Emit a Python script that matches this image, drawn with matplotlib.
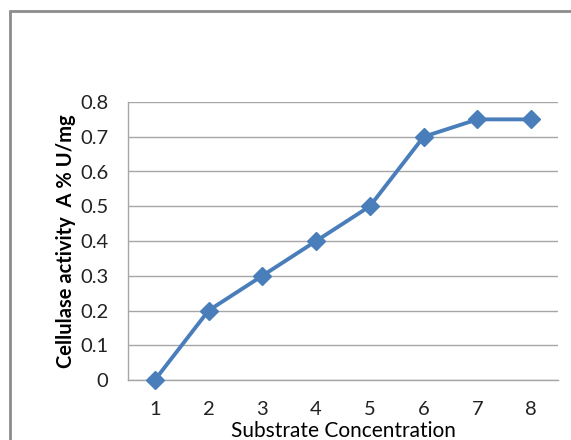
import matplotlib
matplotlib.use("Agg")
import matplotlib.pyplot as plt
from matplotlib.patches import Rectangle

concentration = [1, 2, 3, 4, 5, 6, 7, 8]
activity = [0.0, 0.2, 0.3, 0.4, 0.5, 0.7, 0.75, 0.75]
y_ticks = [0, 0.1, 0.2, 0.3, 0.4, 0.5, 0.6, 0.7, 0.8]
y_tick_labels = ["0", "0.1", "0.2", "0.3", "0.4", "0.5", "0.6", "0.7", "0.8"]

plt.rcParams['font.family'] = ['Lato', 'DejaVu Sans']

fig = plt.figure(figsize=(5.71, 4.40), dpi=100)
W, H = 571, 440
# outer chart border (extends past right/bottom edges)
fig.patches.append(Rectangle((10 / W, -0.1), 1.2, 1 - 11 / H + 0.1, transform=fig.transFigure,
                             fill=False, edgecolor='#8c8c8c', linewidth=2.0))

ax = fig.add_axes([128 / W, 1 - 380 / H, (558 - 128) / W, (380 - 102) / H])
ax.plot(concentration, activity, color='#4A7EBB', linewidth=2.8, marker='D',
        markersize=9.5, markeredgecolor='#4A7EBB', markerfacecolor='#4A7EBB', clip_on=False, zorder=3)

ax.set_xlim(0.5, 8.5)
ax.set_ylim(0, 0.8)
ax.set_yticks(y_ticks)
ax.set_yticklabels(y_tick_labels)
ax.set_xticks(concentration)
ax.set_xticklabels([str(c) for c in concentration])
ax.yaxis.grid(True, color='#a6a6a6', linewidth=1.0)
ax.set_axisbelow(True)
for s in ['top', 'right']:
    ax.spines[s].set_visible(False)
for s in ['left', 'bottom']:
    ax.spines[s].set_color('#a6a6a6')
    ax.spines[s].set_linewidth(1.0)
ax.tick_params(axis='both', length=0, labelsize=14.5, colors='#222222')
ax.tick_params(axis='y', pad=14)
ax.tick_params(axis='x', pad=15)

ax.set_ylabel("Cellulase activity  A % U/mg", fontsize=14.5, fontweight='bold', labelpad=3)
ax.set_xlabel("Substrate Concentration", fontsize=15, labelpad=2)

fig.savefig("out.png", dpi=100)
